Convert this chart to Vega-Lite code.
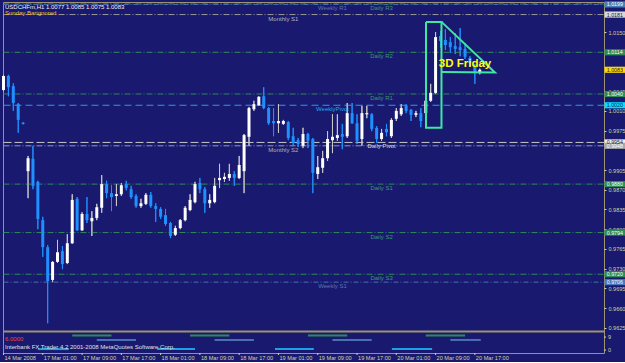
{
  "$schema": "https://vega.github.io/schema/vega-lite/v6.json",
  "background": "#191970",
  "padding": {"left": 1, "top": 1, "right": 0, "bottom": 0},
  "width": 601,
  "height": 351,
  "config": {
    "view": {"stroke": "#9c9470", "strokeWidth": 1},
    "font": "Liberation Sans"
  },
  "resolve": {"scale": {"y": "independent"}},
  "datasets": {
    "candles": [
      {"i":0,"o":1.0047,"h":1.0074,"l":1.0045,"c":1.0072},
      {"i":1,"o":1.0072,"h":1.0074,"l":1.0036,"c":1.0052},
      {"i":2,"o":1.0054,"h":1.0059,"l":1.0010,"c":1.0024},
      {"i":3,"o":1.0022,"h":1.0024,"l":0.9971,"c":0.9994},
      {"i":4,"o":0.9989,"h":0.9990,"l":0.9986,"c":0.9987},
      {"i":5,"o":0.9903,"h":0.9930,"l":0.9855,"c":0.9926},
      {"i":6,"o":0.9925,"h":0.9948,"l":0.9871,"c":0.9877},
      {"i":7,"o":0.9884,"h":0.9886,"l":0.9800,"c":0.9818},
      {"i":8,"o":0.9816,"h":0.9822,"l":0.9751,"c":0.9768},
      {"i":9,"o":0.9768,"h":0.9772,"l":0.9633,"c":0.9708},
      {"i":10,"o":0.9710,"h":0.9743,"l":0.9706,"c":0.9742},
      {"i":11,"o":0.9742,"h":0.9781,"l":0.9740,"c":0.9759},
      {"i":12,"o":0.9761,"h":0.9770,"l":0.9729,"c":0.9738},
      {"i":13,"o":0.9740,"h":0.9791,"l":0.9738,"c":0.9775},
      {"i":14,"o":0.9775,"h":0.9862,"l":0.9774,"c":0.9852},
      {"i":15,"o":0.9854,"h":0.9857,"l":0.9797,"c":0.9798},
      {"i":16,"o":0.9798,"h":0.9830,"l":0.9797,"c":0.9827},
      {"i":17,"o":0.9827,"h":0.9857,"l":0.9811,"c":0.9816},
      {"i":18,"o":0.9814,"h":0.9832,"l":0.9788,"c":0.9820},
      {"i":19,"o":0.9820,"h":0.9845,"l":0.9816,"c":0.9839},
      {"i":20,"o":0.9838,"h":0.9896,"l":0.9829,"c":0.9880},
      {"i":21,"o":0.9880,"h":0.9886,"l":0.9855,"c":0.9864},
      {"i":22,"o":0.9864,"h":0.9878,"l":0.9832,"c":0.9857},
      {"i":23,"o":0.9859,"h":0.9880,"l":0.9841,"c":0.9862},
      {"i":24,"o":0.9862,"h":0.9882,"l":0.9859,"c":0.9878},
      {"i":25,"o":0.9880,"h":0.9886,"l":0.9869,"c":0.9873},
      {"i":26,"o":0.9871,"h":0.9877,"l":0.9854,"c":0.9857},
      {"i":27,"o":0.9859,"h":0.9862,"l":0.9838,"c":0.9841},
      {"i":28,"o":0.9841,"h":0.9854,"l":0.9838,"c":0.9846},
      {"i":29,"o":0.9845,"h":0.9864,"l":0.9843,"c":0.9861},
      {"i":30,"o":0.9861,"h":0.9866,"l":0.9838,"c":0.9841},
      {"i":31,"o":0.9841,"h":0.9846,"l":0.9813,"c":0.9836},
      {"i":32,"o":0.9836,"h":0.9839,"l":0.9818,"c":0.9822},
      {"i":33,"o":0.9825,"h":0.9836,"l":0.9806,"c":0.9809},
      {"i":34,"o":0.9811,"h":0.9813,"l":0.9784,"c":0.9788},
      {"i":35,"o":0.9790,"h":0.9806,"l":0.9788,"c":0.9802},
      {"i":36,"o":0.9802,"h":0.9818,"l":0.9800,"c":0.9816},
      {"i":37,"o":0.9816,"h":0.9841,"l":0.9814,"c":0.9838},
      {"i":38,"o":0.9834,"h":0.9862,"l":0.9832,"c":0.9852},
      {"i":39,"o":0.9848,"h":0.9884,"l":0.9846,"c":0.9880},
      {"i":40,"o":0.9882,"h":0.9891,"l":0.9864,"c":0.9871},
      {"i":41,"o":0.9871,"h":0.9875,"l":0.9829,"c":0.9846},
      {"i":42,"o":0.9846,"h":0.9862,"l":0.9838,"c":0.9852},
      {"i":43,"o":0.9848,"h":0.9891,"l":0.9846,"c":0.9877},
      {"i":44,"o":0.9887,"h":0.9916,"l":0.9873,"c":0.9891},
      {"i":45,"o":0.9889,"h":0.9900,"l":0.9884,"c":0.9893},
      {"i":46,"o":0.9891,"h":0.9916,"l":0.9886,"c":0.9898},
      {"i":47,"o":0.9898,"h":0.9903,"l":0.9877,"c":0.9891},
      {"i":48,"o":0.9891,"h":0.9930,"l":0.9889,"c":0.9914},
      {"i":49,"o":0.9903,"h":0.9969,"l":0.9864,"c":0.9967},
      {"i":50,"o":0.9964,"h":1.0017,"l":0.9948,"c":1.0015},
      {"i":51,"o":1.0013,"h":1.0028,"l":1.0010,"c":1.0022},
      {"i":52,"o":1.0020,"h":1.0036,"l":1.0019,"c":1.0035},
      {"i":53,"o":1.0036,"h":1.0052,"l":1.0013,"c":1.0015},
      {"i":54,"o":1.0015,"h":1.0017,"l":0.9985,"c":0.9988},
      {"i":55,"o":0.9992,"h":1.0015,"l":0.9965,"c":0.9988},
      {"i":56,"o":0.9988,"h":1.0022,"l":0.9971,"c":0.9992},
      {"i":57,"o":0.9987,"h":0.9994,"l":0.9985,"c":0.9992},
      {"i":58,"o":0.9990,"h":0.9992,"l":0.9958,"c":0.9962},
      {"i":59,"o":0.9965,"h":0.9980,"l":0.9948,"c":0.9953},
      {"i":60,"o":0.9958,"h":0.9962,"l":0.9946,"c":0.9951},
      {"i":61,"o":0.9948,"h":0.9980,"l":0.9944,"c":0.9969},
      {"i":62,"o":0.9969,"h":0.9971,"l":0.9944,"c":0.9957},
      {"i":63,"o":0.9960,"h":0.9962,"l":0.9864,"c":0.9900},
      {"i":64,"o":0.9898,"h":0.9930,"l":0.9889,"c":0.9910},
      {"i":65,"o":0.9909,"h":0.9939,"l":0.9900,"c":0.9926},
      {"i":66,"o":0.9926,"h":0.9974,"l":0.9921,"c":0.9960},
      {"i":67,"o":0.9958,"h":1.0004,"l":0.9935,"c":0.9964},
      {"i":68,"o":0.9962,"h":1.0004,"l":0.9957,"c":0.9967},
      {"i":69,"o":0.9969,"h":0.9987,"l":0.9942,"c":0.9964},
      {"i":70,"o":0.9965,"h":1.0024,"l":0.9962,"c":1.0006},
      {"i":71,"o":1.0006,"h":1.0024,"l":0.9987,"c":0.9988},
      {"i":72,"o":0.9988,"h":1.0004,"l":0.9951,"c":0.9957},
      {"i":73,"o":0.9960,"h":1.0019,"l":0.9948,"c":1.0006},
      {"i":74,"o":1.0004,"h":1.0019,"l":0.9997,"c":1.0006},
      {"i":75,"o":1.0004,"h":1.0006,"l":0.9974,"c":0.9978},
      {"i":76,"o":0.9980,"h":0.9983,"l":0.9953,"c":0.9960},
      {"i":77,"o":0.9960,"h":0.9978,"l":0.9957,"c":0.9971},
      {"i":78,"o":0.9978,"h":0.9987,"l":0.9965,"c":0.9972},
      {"i":79,"o":0.9965,"h":0.9997,"l":0.9962,"c":0.9994},
      {"i":80,"o":0.9996,"h":1.0015,"l":0.9992,"c":1.0010},
      {"i":81,"o":1.0004,"h":1.0022,"l":1.0001,"c":1.0015},
      {"i":82,"o":1.0020,"h":1.0022,"l":1.0006,"c":1.0010},
      {"i":83,"o":1.0012,"h":1.0013,"l":0.9992,"c":1.0003},
      {"i":84,"o":1.0003,"h":1.0010,"l":0.9999,"c":1.0006},
      {"i":85,"o":1.0006,"h":1.0015,"l":0.9981,"c":0.9992},
      {"i":86,"o":1.0006,"h":1.0031,"l":0.9990,"c":1.0028},
      {"i":87,"o":1.0028,"h":1.0058,"l":1.0026,"c":1.0042},
      {"i":88,"o":1.0042,"h":1.0150,"l":1.0040,"c":1.0141},
      {"i":89,"o":1.0143,"h":1.0152,"l":1.0122,"c":1.0134},
      {"i":90,"o":1.0136,"h":1.0155,"l":1.0118,"c":1.0127},
      {"i":91,"o":1.0132,"h":1.0141,"l":1.0113,"c":1.0123},
      {"i":92,"o":1.0125,"h":1.0148,"l":1.0111,"c":1.0120},
      {"i":93,"o":1.0123,"h":1.0157,"l":1.0107,"c":1.0118},
      {"i":94,"o":1.0120,"h":1.0130,"l":1.0102,"c":1.0106},
      {"i":95,"o":1.0104,"h":1.0107,"l":1.0090,"c":1.0095},
      {"i":96,"o":1.0088,"h":1.0093,"l":1.0058,"c":1.0077},
      {"i":97,"o":1.0077,"h":1.0085,"l":1.0075,"c":1.0083}
    ],
    "levels": [
      {"name":"Daily R3","level":1.0200,"kind":"daily"},
      {"name":"Weekly R1","level":1.0199,"kind":"weekly"},
      {"name":"Monthly S1","level":1.0181,"kind":"monthly"},
      {"name":"Daily R2","level":1.0114,"kind":"daily"},
      {"name":"Daily R1","level":1.0040,"kind":"daily"},
      {"name":"WeeklyPivot","level":1.0020,"kind":"wpivot"},
      {"name":"Daily Pivot","level":0.9954,"kind":"dpivot"},
      {"name":"Monthly S2","level":0.9948,"kind":"monthly"},
      {"name":"Daily S1","level":0.9880,"kind":"daily"},
      {"name":"Daily S2","level":0.9794,"kind":"daily"},
      {"name":"Daily S3","level":0.9720,"kind":"daily"},
      {"name":"Weekly S1","level":0.9706,"kind":"weekly"},
      {"name":"Bid","level":1.0083,"kind":"bid"}
    ],
    "outline": [
      {"shape":"box","ord":0,"i":86.05,"p":1.0168},
      {"shape":"box","ord":1,"i":89.2,"p":1.0168},
      {"shape":"box","ord":2,"i":89.2,"p":0.9980},
      {"shape":"box","ord":3,"i":86.05,"p":0.9980},
      {"shape":"box","ord":4,"i":86.05,"p":1.0168},
      {"shape":"tri","ord":0,"i":89.2,"p":1.0168},
      {"shape":"tri","ord":1,"i":100.1,"p":1.0078},
      {"shape":"tri","ord":2,"i":89.2,"p":1.0079}
    ],
    "sessions": [
      {"s":"green","a":14,"b":22,"v":10},
      {"s":"green","a":38,"b":46,"v":10},
      {"s":"green","a":62,"b":70,"v":10},
      {"s":"green","a":86,"b":94,"v":10},
      {"s":"red","a":19,"b":27,"v":7},
      {"s":"red","a":43,"b":51,"v":7},
      {"s":"red","a":67,"b":75,"v":7},
      {"s":"red","a":91,"b":97.2,"v":7},
      {"s":"yellow","a":7,"b":13.3,"v":0.7},
      {"s":"yellow","a":31.3,"b":39,"v":0.7},
      {"s":"yellow","a":55.3,"b":63.2,"v":0.7},
      {"s":"yellow","a":79.1,"b":87.3,"v":0.7}
    ],
    "subticks": [{"v": 9}, {"v": 0}],
    "timeticks": [
      {"i": 0, "t": "14 Mar 2008"},
      {"i": 8, "t": "17 Mar 01:00"},
      {"i": 16, "t": "17 Mar 09:00"},
      {"i": 24, "t": "17 Mar 17:00"},
      {"i": 32, "t": "18 Mar 01:00"},
      {"i": 40, "t": "18 Mar 09:00"},
      {"i": 48, "t": "18 Mar 17:00"},
      {"i": 56, "t": "19 Mar 01:00"},
      {"i": 64, "t": "19 Mar 09:00"},
      {"i": 72, "t": "19 Mar 17:00"},
      {"i": 80, "t": "20 Mar 01:00"},
      {"i": 88, "t": "20 Mar 09:00"},
      {"i": 96, "t": "20 Mar 17:00"}
    ]
  },
  "layer": [
    {
      "data": {"name": "candles"},
      "mark": {"type": "rule", "strokeWidth": 1},
      "encoding": {
        "x": {"field": "i", "type": "quantitative", "scale": {"domain": [-0.1, 122.3], "nice": false, "zero": false, "padding": 0}, "axis": null},
        "y": {"field": "l", "type": "quantitative", "scale": {"domain": [0.95802, 1.02033], "nice": false, "zero": false},
          "axis": {"orient": "right", "title": null, "grid": false, "domain": false, "values": [0.9625, 0.966, 0.9695, 0.973, 0.9765, 0.98, 0.9835, 0.987, 0.9905, 0.9975, 1.001, 1.0045, 1.015], "format": ".4f", "tickSize": 2, "tickColor": "#d8d0a0", "labelColor": "#d8d0a0", "labelPadding": 2, "labelFontSize": 5.5, "labelOverlap": false, "labelFlush": false}},
        "y2": {"field": "h"},
        "color": {"condition": {"test": "datum.c >= datum.o", "value": "#c8c8c8"}, "value": "#1e90ff"}
      }
    },
    {
      "data": {"name": "levels"},
      "transform": [{"filter": "datum.kind != 'bid'"}],
      "mark": {"type": "rule", "strokeWidth": 1},
      "encoding": {
        "x": {"datum": 0, "type": "quantitative", "axis": null},
        "x2": {"datum": 122.3},
        "y": {"field": "level", "type": "quantitative", "scale": {"domain": [0.95802, 1.02033], "nice": false, "zero": false}, "axis": null},
        "color": {"field": "kind", "type": "nominal", "scale": {"domain": ["daily", "weekly", "wpivot", "monthly", "dpivot"], "range": ["#2e8b57", "#4a70b0", "#1ea0e6", "#9a9a9a", "#c8c8c8"]}, "legend": null},
        "strokeDash": {"field": "kind", "type": "nominal", "scale": {"domain": ["daily", "weekly", "wpivot", "monthly", "dpivot"], "range": [[6, 2, 1, 2], [5, 2, 1, 2], [7, 4], [6, 2, 1, 2], [8, 3]]}, "legend": null},
        "strokeWidth": {"condition": {"test": "datum.kind == 'dpivot'", "value": 2}, "value": 1}
      }
    },
    {
      "data": {"name": "candles"},
      "mark": {"type": "rule", "strokeWidth": 1},
      "encoding": {
        "x": {"field": "i", "type": "quantitative", "axis": null},
        "y": {"field": "l", "type": "quantitative", "scale": {"domain": [0.95802, 1.02033], "nice": false, "zero": false}, "axis": null},
        "y2": {"field": "h"},
        "color": {"condition": {"test": "datum.c >= datum.o", "value": "#c8c8c8"}, "value": "#1e90ff"}
      }
    },
    {
      "data": {"name": "candles"},
      "mark": {"type": "bar", "width": 3},
      "encoding": {
        "x": {"field": "i", "type": "quantitative", "axis": null},
        "y": {"field": "o", "type": "quantitative", "scale": {"domain": [0.95802, 1.02033], "nice": false, "zero": false}, "axis": null},
        "y2": {"field": "c"},
        "color": {"condition": {"test": "datum.c >= datum.o", "value": "#ffffff"}, "value": "#1e90ff"}
      }
    },
    {
      "data": {"name": "levels"},
      "transform": [{"filter": "datum.kind == 'daily' || datum.kind == 'dpivot'"}],
      "mark": {"type": "text", "align": "center", "baseline": "top", "dy": 1, "fontSize": 6},
      "encoding": {
        "x": {"datum": 77, "type": "quantitative", "axis": null},
        "y": {"field": "level", "type": "quantitative", "scale": {"domain": [0.95802, 1.02033], "nice": false, "zero": false}, "axis": null},
        "text": {"field": "name"},
        "color": {"condition": {"test": "datum.kind == 'dpivot'", "value": "#d8d8d8"}, "value": "#3a9a70"}
      }
    },
    {
      "data": {"name": "levels"},
      "transform": [{"filter": "datum.kind == 'weekly' || datum.kind == 'wpivot'"}],
      "mark": {"type": "text", "align": "center", "baseline": "top", "dy": 1, "fontSize": 6},
      "encoding": {
        "x": {"datum": 67, "type": "quantitative", "axis": null},
        "y": {"field": "level", "type": "quantitative", "scale": {"domain": [0.95802, 1.02033], "nice": false, "zero": false}, "axis": null},
        "text": {"field": "name"},
        "color": {"condition": {"test": "datum.kind == 'wpivot'", "value": "#20a8f0"}, "value": "#5a78b0"}
      }
    },
    {
      "data": {"name": "levels"},
      "transform": [{"filter": "datum.kind == 'monthly'"}],
      "mark": {"type": "text", "align": "center", "baseline": "top", "dy": 1, "fontSize": 6, "color": "#b4b4b4"},
      "encoding": {
        "x": {"datum": 57, "type": "quantitative", "axis": null},
        "y": {"field": "level", "type": "quantitative", "scale": {"domain": [0.95802, 1.02033], "nice": false, "zero": false}, "axis": null},
        "text": {"field": "name"}
      }
    },
    {
      "data": {"name": "outline"},
      "mark": {"type": "line", "strokeWidth": 2, "color": "#3ee6a0"},
      "encoding": {
        "x": {"field": "i", "type": "quantitative", "axis": null},
        "y": {"field": "p", "type": "quantitative", "scale": {"domain": [0.95802, 1.02033], "nice": false, "zero": false}, "axis": null},
        "detail": {"field": "shape"},
        "order": {"field": "ord"}
      }
    },
    {
      "data": {"values": [{}]},
      "mark": {"type": "text", "align": "center", "baseline": "middle", "fontSize": 11.5, "fontWeight": "bold", "color": "#ffff00"},
      "encoding": {
        "x": {"datum": 94, "type": "quantitative", "axis": null},
        "y": {"datum": 1.0093, "type": "quantitative", "scale": {"domain": [0.95802, 1.02033], "nice": false, "zero": false}, "axis": null},
        "text": {"value": "3D Friday"}
      }
    },
    {
      "data": {"values": [{}]},
      "mark": {"type": "text", "align": "left", "baseline": "middle", "fontSize": 6, "color": "#f0f0f0"},
      "encoding": {
        "x": {"datum": 0.3, "type": "quantitative", "axis": null},
        "y": {"datum": 1.0194, "type": "quantitative", "scale": {"domain": [0.95802, 1.02033], "nice": false, "zero": false}, "axis": null},
        "text": {"value": "USDCHFm,H1  1.0077 1.0085 1.0075 1.0083"}
      }
    },
    {
      "data": {"values": [{}]},
      "mark": {"type": "text", "align": "left", "baseline": "middle", "fontSize": 6, "color": "#f0c020"},
      "encoding": {
        "x": {"datum": 0.3, "type": "quantitative", "axis": null},
        "y": {"datum": 1.0183, "type": "quantitative", "scale": {"domain": [0.95802, 1.02033], "nice": false, "zero": false}, "axis": null},
        "text": {"value": "Sunday Barignored"}
      }
    },
    {
      "data": {"name": "levels"},
      "transform": [{"filter": "datum.name != 'Daily R3'"}],
      "mark": {"type": "point", "shape": "M-1,-0.3H1V0.3H-1Z", "size": 420, "filled": true, "opacity": 1, "strokeWidth": 0},
      "encoding": {
        "x": {"datum": 124.5, "type": "quantitative", "axis": null},
        "y": {"field": "level", "type": "quantitative", "scale": {"domain": [0.95802, 1.02033], "nice": false, "zero": false}, "axis": null},
        "fill": {"field": "name", "type": "nominal", "legend": null,
          "scale": {"domain": ["Weekly R1", "Monthly S1", "Daily R2", "Bid", "Daily R1", "WeeklyPivot", "Daily Pivot", "Monthly S2", "Daily S1", "Daily S2", "Daily S3", "Weekly S1"],
            "range": ["#4682b4", "#d8d8d8", "#2e8b57", "#ffd700", "#2e8b57", "#00e0ff", "#f0f0f0", "#a8a8a8", "#2e8b57", "#2e8b57", "#2e8b57", "#4a78b8"]}}
      }
    },
    {
      "data": {"name": "levels"},
      "transform": [{"filter": "datum.name != 'Daily R3'"}],
      "mark": {"type": "text", "align": "center", "baseline": "middle", "fontSize": 5.3},
      "encoding": {
        "x": {"datum": 124.5, "type": "quantitative", "axis": null},
        "y": {"field": "level", "type": "quantitative", "scale": {"domain": [0.95802, 1.02033], "nice": false, "zero": false}, "axis": null},
        "text": {"field": "level", "type": "quantitative", "format": ".4f"},
        "color": {"condition": {"test": "datum.kind == 'daily' || datum.kind == 'weekly' || datum.name == 'Monthly S2'", "value": "#ffffff"}, "value": "#1a1a40"}
      }
    },
    {
      "data": {"values": [{}]},
      "mark": {"type": "rule", "strokeWidth": 2, "color": "#9c9470"},
      "encoding": {
        "x": {"datum": -0.1, "type": "quantitative", "axis": null},
        "x2": {"datum": 122.3},
        "y": {"datum": 12.85, "type": "quantitative", "scale": {"domain": [-2, 240.4], "nice": false, "zero": false}, "axis": null}
      }
    },
    {
      "data": {"name": "sessions"},
      "mark": {"type": "rule", "strokeWidth": 2},
      "encoding": {
        "x": {"field": "a", "type": "quantitative", "axis": null},
        "x2": {"field": "b"},
        "y": {"field": "v", "type": "quantitative", "scale": {"domain": [-2, 240.4], "nice": false, "zero": false}, "axis": null},
        "color": {"field": "s", "type": "nominal", "scale": {"domain": ["green", "red", "yellow"], "range": ["#00ff00", "#dc1428", "#ffff00"]}, "legend": null}
      }
    },
    {
      "data": {"name": "subticks"},
      "mark": {"type": "rule", "strokeWidth": 1, "color": "#d8d0a0"},
      "encoding": {
        "x": {"datum": 122.3, "type": "quantitative", "axis": null},
        "x2": {"datum": 122.72},
        "y": {"field": "v", "type": "quantitative", "scale": {"domain": [-2, 240.4], "nice": false, "zero": false}, "axis": null}
      }
    },
    {
      "data": {"name": "subticks"},
      "mark": {"type": "text", "align": "left", "baseline": "middle", "fontSize": 5.5, "color": "#d8d0a0", "dx": 4},
      "encoding": {
        "x": {"datum": 122.3, "type": "quantitative", "axis": null},
        "y": {"field": "v", "type": "quantitative", "scale": {"domain": [-2, 240.4], "nice": false, "zero": false}, "axis": null},
        "text": {"field": "v", "type": "quantitative", "format": "d"}
      }
    },
    {
      "data": {"name": "timeticks"},
      "mark": {"type": "rule", "strokeWidth": 1, "color": "#d8d0a0"},
      "encoding": {
        "x": {"field": "i", "type": "quantitative", "axis": null},
        "y": {"datum": -2, "type": "quantitative", "scale": {"domain": [-2, 240.4], "nice": false, "zero": false}, "axis": null},
        "y2": {"datum": -3.4}
      }
    },
    {
      "data": {"name": "timeticks"},
      "mark": {"type": "text", "align": "left", "baseline": "top", "fontSize": 5.6, "color": "#d8d0a0", "dx": 1, "dy": 3},
      "encoding": {
        "x": {"field": "i", "type": "quantitative", "axis": null},
        "y": {"datum": -2, "type": "quantitative", "scale": {"domain": [-2, 240.4], "nice": false, "zero": false}, "axis": null},
        "text": {"field": "t"}
      }
    },
    {
      "data": {"values": [{}]},
      "mark": {"type": "text", "align": "left", "baseline": "middle", "fontSize": 6, "color": "#ff4030"},
      "encoding": {
        "x": {"datum": 0.3, "type": "quantitative", "axis": null},
        "y": {"datum": 8, "type": "quantitative", "scale": {"domain": [-2, 240.4], "nice": false, "zero": false}, "axis": null},
        "text": {"value": "6.0000"}
      }
    },
    {
      "data": {"values": [{}]},
      "mark": {"type": "text", "align": "left", "baseline": "middle", "fontSize": 6, "color": "#e0e0e0"},
      "encoding": {
        "x": {"datum": 0.3, "type": "quantitative", "axis": null},
        "y": {"datum": 1.8, "type": "quantitative", "scale": {"domain": [-2, 240.4], "nice": false, "zero": false}, "axis": null},
        "text": {"value": "Interbank FX Trader 4.2 2001-2008 MetaQuotes Software Corp."}
      }
    }
  ]
}
